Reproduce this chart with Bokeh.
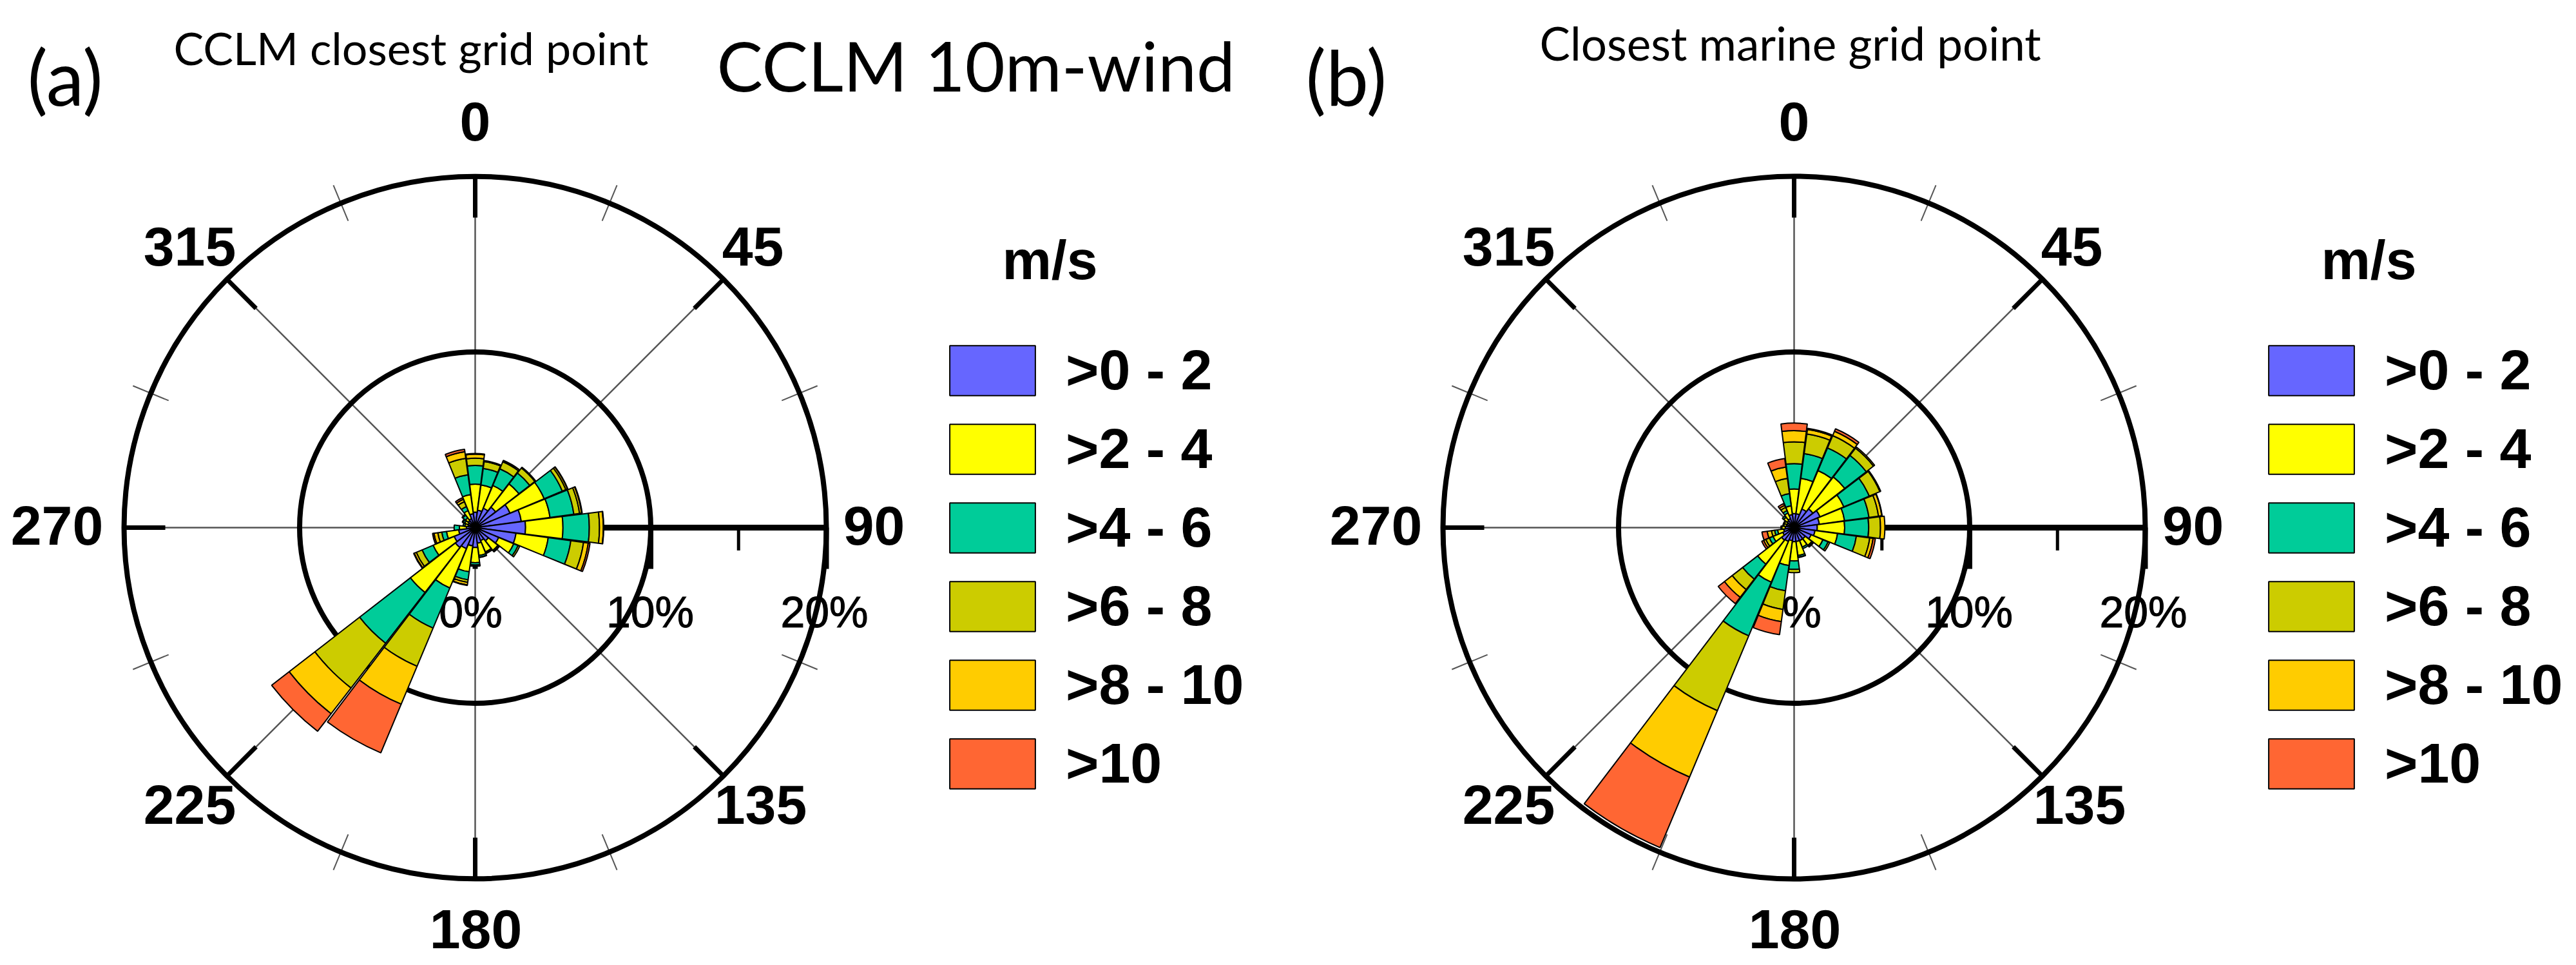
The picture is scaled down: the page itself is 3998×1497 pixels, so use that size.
""" @file plot.py
"""
import numpy as np
from bokeh.core.properties import value
from bokeh.embed import file_html
from bokeh.layouts import row
from bokeh.models import Legend, LegendItem, Range1d
from bokeh.plotting import figure
from bokeh.resources import INLINE

bearings = [0, 15, 30, 45, 60, 75, 90, 105, 120, 135, 150, 165,
            180, 195, 210, 225, 240, 255, 270, 285, 300, 315, 330, 345]
speed_labels = [">0 - 2", ">2 - 4", ">4 - 6", ">6 - 8", ">8 - 10", ">10"]
speed_colors = ["#6666FF", "#FFFF00", "#00CC99", "#CCCC00", "#FFCC00", "#FF6633"]
dir_labels = ["0", "45", "90", "135", "180", "225", "270", "315"]
pct_ticks = [0, 10, 20]

# cumulative frequency in % up to the top of each speed class
a_to_2 = [0.88, 1.0, 1.2, 1.47, 2.15, 2.65, 2.87, 2.35, 1.45, 0.95, 0.8, 0.9,
          1.13, 1.05, 1.3, 1.43, 1.3, 0.95, 0.5, 0.4, 0.45, 0.5, 0.55, 0.8]
a_to_4 = [2.48, 2.45, 2.6, 3.15, 4.26, 4.3, 5.0, 4.2, 2.38, 1.64, 1.5, 1.6,
          2.0, 2.54, 3.73, 4.67, 2.6, 1.65, 0.9, 0.6, 0.65, 0.7, 1.05, 1.9]
a_to_6 = [3.54, 3.4, 3.63, 3.93, 5.38, 5.67, 6.5, 5.5, 2.65, 1.72, 1.55, 1.7,
          2.13, 3.0, 6.2, 8.33, 3.28, 1.92, 1.2, 0.7, 0.75, 0.9, 1.3, 3.04]
a_to_8 = [3.95, 3.8, 4.07, 4.3, 5.6, 6.0, 7.08, 6.23, 2.75, 1.75, 1.6, 1.72,
          2.2, 3.15, 8.56, 11.55, 3.64, 2.15, 1.2, 0.7, 0.8, 0.95, 1.6, 3.98]
a_to_10 = [4.18, 3.85, 4.15, 4.35, 5.7, 6.12, 7.3, 6.5, 2.75, 1.75, 1.6, 1.72,
           2.2, 3.3, 10.9, 13.4, 3.77, 2.37, 1.2, 0.7, 0.8, 0.95, 1.75, 4.36]
a_all = [4.22, 3.85, 4.15, 4.35, 5.72, 6.15, 7.32, 6.6, 2.75, 1.75, 1.6, 1.72,
         2.2, 3.32, 13.9, 14.66, 3.8, 2.45, 1.2, 0.7, 0.8, 0.95, 1.85, 4.5]

b_to_2 = [0.8, 0.8, 1.15, 1.35, 1.6, 1.45, 1.32, 1.2, 1.05, 0.8, 0.8, 0.8,
          0.8, 0.75, 0.85, 0.9, 0.7, 0.6, 0.5, 0.45, 0.45, 0.5, 0.55, 0.75]
b_to_4 = [2.2, 2.83, 3.52, 3.65, 3.07, 2.9, 2.88, 2.5, 1.78, 1.28, 1.2, 1.6,
          1.9, 2.18, 3.37, 2.63, 1.3, 0.95, 0.7, 0.6, 0.6, 0.75, 0.9, 1.25]
b_to_6 = [3.64, 4.25, 4.92, 5.2, 4.64, 4.3, 4.25, 3.58, 2.1, 1.35, 1.3, 1.7,
          2.38, 3.63, 6.68, 3.71, 1.53, 1.12, 0.75, 0.65, 0.65, 0.85, 1.05, 1.95]
b_to_8 = [4.88, 5.38, 5.68, 5.72, 5.3, 4.85, 4.92, 4.35, 2.2, 1.4, 1.3, 1.72,
          2.56, 4.7, 11.3, 4.46, 1.75, 1.3, 0.75, 0.65, 0.65, 0.85, 1.25, 2.83]
b_to_10 = [5.52, 5.64, 5.95, 5.8, 5.35, 5.04, 5.17, 4.54, 2.2, 1.4, 1.3, 1.72,
           2.56, 5.4, 15.4, 5.02, 1.88, 1.55, 0.75, 0.65, 0.65, 0.85, 1.38, 3.48]
b_all = [5.95, 5.7, 6.1, 5.8, 5.35, 5.06, 5.17, 4.67, 2.2, 1.4, 1.3, 1.72,
         2.56, 6.15, 19.75, 5.47, 2.0, 1.85, 0.75, 0.65, 0.65, 0.85, 1.5, 3.97]

PX = 27.25       # pixels per percent
PAGE_H = 1495
CY = 818         # rose centre below the top of the figure
BAR_W = 14.5     # degrees
SANS = value("Liberation Sans")
LATO = value("Lato")

# offsets of the direction labels from the rose centre, pixels
label_dx = [0, 431, 619, 443, 1, -443, -649, -443]
label_dy = [-630, -436, -3, 430, 623, 430, -3, -436]


def xy(bearing, r):
    rad = np.radians(bearing)
    return r*np.sin(rad), r*np.cos(rad)


def rose(stacks, width, cx):
    # cx = centre of the rose in pixels from the left of this figure
    p = figure(width=width, height=PAGE_H, output_backend="svg", toolbar_location=None,
               x_range=Range1d(-cx/PX, (width - cx)/PX),
               y_range=Range1d(-(PAGE_H - CY)/PX, CY/PX),
               min_border=0, outline_line_color=None, background_fill_color="white")
    p.axis.visible = False
    p.grid.visible = False

    b = np.array(bearings, dtype=float)

    # spokes
    main = np.arange(0, 360, 45.0)
    x1, y1 = xy(main, 20)
    p.segment(0, 0, x1, y1, line_color="#555555", line_width=2.5)

    # minor direction ticks cross the ring
    mid = np.arange(22.5, 360, 45.0)
    x0, y0 = xy(mid, 20 - 1.1)
    x1, y1 = xy(mid, 20 + 1.1)
    p.segment(x0, y0, x1, y1, line_color="#555555", line_width=2)

    # rings
    p.circle(x=[0, 0], y=[0, 0], radius=[10, 20], fill_color=None,
             line_color="black", line_width=8)

    # major direction ticks
    x0, y0 = xy(main, 20 - 2.35)
    x1, y1 = xy(main, 20)
    p.segment(x0, y0, x1, y1, line_color="black", line_width=7)

    # radial axis with its ticks below it
    p.segment(0, 0, 20, 0, line_color="black", line_width=9)
    p.segment(pct_ticks, 0, pct_ticks, -2.35, line_color="black", line_width=8)
    p.segment([5, 15], 0, [5, 15], -1.3, line_color="black", line_width=5)

    p.text(x=[t + d/PX for t, d in zip(pct_ticks, [-7, -1, -3])], y=-130/PX,
           text=[f"{t}%" for t in pct_ticks], text_font=SANS, text_font_size=value("68px"),
           text_color="black", text_outline_color="black", text_align="center",
           text_baseline="middle")
    p.text(x=[d/PX for d in label_dx], y=[-d/PX for d in label_dy], text=dir_labels,
           text_font=SANS, text_font_size=value("86px"), text_font_style="bold",
           text_color="black", text_align="center", text_baseline="middle")

    # petals
    items = []
    inner = np.zeros(len(b))
    half = BAR_W/2
    for stack, color, label in zip(stacks, speed_colors, speed_labels):
        outer = np.array(stack)
        keep = outer > inner
        r = p.annular_wedge(0, 0, inner_radius=inner[keep], outer_radius=outer[keep],
                            start_angle=np.radians(90 - b[keep] - half),
                            end_angle=np.radians(90 - b[keep] + half),
                            fill_color=color, line_color="black", line_width=2)
        items.append(LegendItem(label=label, renderers=[r]))
        inner = outer

    legend = Legend(items=items, location=(round(cx + 737 - 16.6), 260),
                    glyph_width=166, glyph_height=97, spacing=20, label_standoff=31,
                    padding=0, margin=0, border_line_color=None, background_fill_alpha=0,
                    label_text_font="Liberation Sans", label_text_font_style="bold",
                    label_text_font_size="88px", label_text_color="black")
    p.add_layout(legend)
    p.text(x=[892/PX], y=[(CY - 402)/PX], text=["m/s"], text_font=SANS,
           text_font_size=value("86px"), text_font_style="bold", text_color="black",
           text_align="center", text_baseline="middle")
    return p


def put_text(p, cx, left, mid_y, text, size):
    p.text(x=[(left - cx)/PX], y=[(CY - mid_y)/PX], text=[text], text_font=LATO,
           text_font_size=value(size), text_color="black", text_align="left",
           text_baseline="middle")


stacks_a = [a_to_2, a_to_4, a_to_6, a_to_8, a_to_10, a_all]
stacks_b = [b_to_2, b_to_4, b_to_6, b_to_8, b_to_10, b_all]

WIDTH_A = 2000
WIDTH_B = 1982
CX_A = 737
CX_B = 2784 - 2000

pa = rose(stacks_a, WIDTH_A, CX_A)
pb = rose(stacks_b, WIDTH_B, CX_B)

put_text(pa, CX_A, 42, 118, "(a)", "118px")
put_text(pa, CX_A, 269, 73, "CCLM closest grid point", "70px")
put_text(pa, CX_A, 1112, 100, "CCLM 10m-wind", "107px")
put_text(pb, CX_B, 2026 - 2000, 118, "(b)", "118px")
put_text(pb, CX_B, 2389 - 2000, 66, "Closest marine grid point", "71px")

layout = row(pa, pb, spacing=0)
open("out.html", "w").write(file_html(layout, INLINE))
